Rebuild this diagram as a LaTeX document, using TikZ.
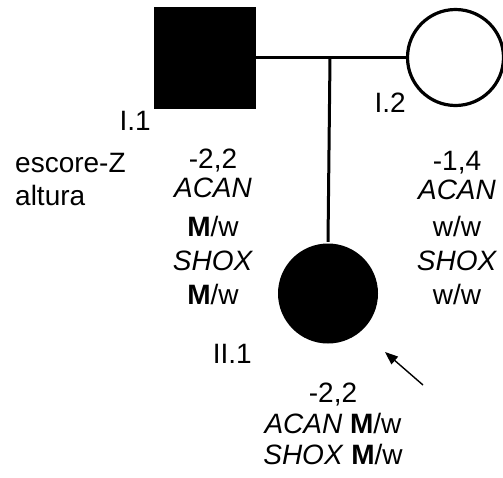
\documentclass[tikz,border=0pt]{standalone}
\usepackage{fontspec}
\setmainfont{Liberation Sans}
\usetikzlibrary{arrows.meta, positioning}

\begin{document}
\begin{tikzpicture}[
  x=1pt, y=-1pt,
  every node/.style={font=\fontsize{28}{34}\selectfont, inner sep=0pt},
  malebox/.style={rectangle, draw, fill=black, line width=1pt,
                  minimum size=101pt},
  femalecirc/.style={circle, draw, line width=3.2pt, minimum size=96pt},
  affected/.style={fill=black},
  link/.style={line width=3pt},
  info/.style={align=center, anchor=base},
  arr/.style={-{Triangle[length=13pt, width=10pt]}, line width=1.4pt},
]
\useasboundingbox (0,0) rectangle (503,477);

% generation I
\node[malebox] (I1) at (205,57.5) {};
\node[femalecirc] (I2) at (455.5,57.5) {};
\coordinate (mid) at (330,57.5);

% generation II
\node[femalecirc, affected, draw=none, minimum size=100pt]
  (II1) at (328,293.5) {};

\draw[link] (I1.east) -- (I2.west);
\draw[link] (mid) -- (II1.north);

% labels (base = last line)
\node[anchor=base east] (lI1)  at (151,130) {I.1};
\node[anchor=base east] (lI2)  at (406,112) {I.2};
\node[anchor=base east] (lII1) at (252,363) {II.1};

\node[anchor=base west, align=left] (zlbl) at (15,205)
  {escore-Z\\[-1pt]altura};

\node[info] (gI1) at (213,304)
  {-2,2\\[-5pt] \textit{ACAN}\\[5pt] \textbf{M}/w\\ \textit{SHOX}\\ \textbf{M}/w};
\node[info] (gI2) at (457,304)
  {-1,4\\[-5pt] \textit{ACAN}\\[3pt] w/w\\ \textit{SHOX}\\ w/w};
\node[info, font=\fontsize{28}{31}\selectfont] (gII1) at (333,464)
  {-2,2\\ \textit{ACAN} \textbf{M}/w\\ \textit{SHOX} \textbf{M}/w};

% proband arrow
\coordinate (arrtail) at (423,385);
\coordinate (arrtip)  at (385,352);
\draw[arr] (arrtail) -- (arrtip);
\end{tikzpicture}
\end{document}
